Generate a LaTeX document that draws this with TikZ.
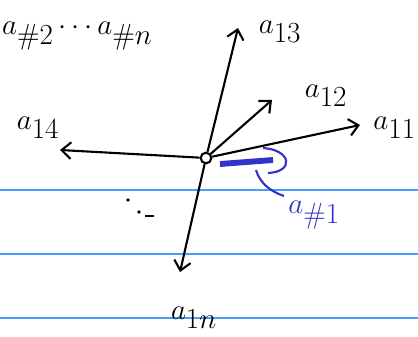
\documentclass[tikz,border=0pt]{standalone}
\usepackage{amsmath}
\usepackage{xcolor}
\usepackage{tikz}
\usetikzlibrary{arrows.meta}

\definecolor{ruleblue}{RGB}{70,160,250}
\definecolor{penblue}{RGB}{50,50,200}

\begin{document}
\begin{tikzpicture}[
  x=0.03cm, y=-0.03cm,
  vec/.style={-{Straight Barb[length=2.8mm,width=5mm]}, line width=1.8pt},
  lbl/.style={font=\fontsize{36}{40}\selectfont, inner sep=0pt},
  rule/.style={ruleblue, line width=1pt},
]
  \useasboundingbox (0,0) rectangle (418,337);

  % ruled paper
  \foreach \y in {190,254,318} {
    \draw[rule] (0,\y) -- (418,\y);
  }

  \node[draw, circle, line width=1.8pt, minimum size=0.32cm, inner sep=0pt] (o) at (206,158) {};

  \coordinate (t13) at (238,28);
  \coordinate (t12) at (272,100);
  \coordinate (t11) at (360,125);
  \coordinate (t14) at (60,150);
  \coordinate (t1n) at (180,272);

  \draw[vec] (o) -- (t13);
  \draw[vec] (o) -- (t12);
  \draw[vec] (o) -- (t11);
  \draw[vec] (o) -- (t14);
  \draw[vec] (o) -- (t1n);

  \node[lbl] (a13) at (280,32)  {$a_{13}$};
  \node[lbl] (a12) at (326,96)  {$a_{12}$};
  \node[lbl, anchor=east] (a11) at (416,128) {$a_{11}$};
  \node[lbl] (a14) at (38,128)  {$a_{14}$};
  \node[lbl] (a1n) at (194,318) {$a_{1n}$};
  \node[lbl, anchor=west] (top) at (2,36) {$a_{\#2}\cdots a_{\#n}$};

  % dots
  \fill (128,200) circle (1.8);
  \fill (139,212) circle (1.8);
  \draw[line width=1.5pt] (145,216) -- (154,216);

  % column a#1
  \draw[penblue, line width=5pt] (220,164) -- (273,160);
  \draw[penblue, line width=1.8pt] (263,148) .. controls (292,150) and (294,172) .. (268,173);
  \draw[penblue, line width=1.8pt] (256,170) .. controls (260,184) and (272,192) .. (284,196);
  \node[lbl, penblue] (col) at (314,215) {$a_{\#1}$};
\end{tikzpicture}
\end{document}
